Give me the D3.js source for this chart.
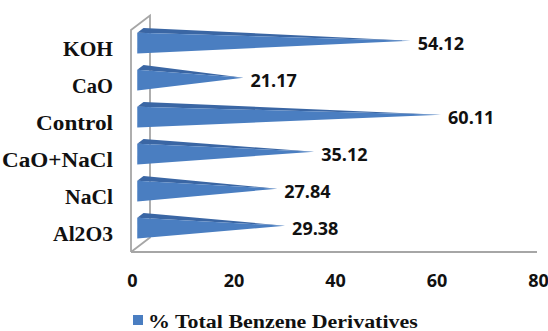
<!DOCTYPE html>
<html>
<head>
<meta charset="utf-8">
<script src="https://cdn.jsdelivr.net/npm/d3@7"></script>
</head>
<body style="margin:0">
<svg id="chart" width="548" height="331"></svg>
<script>
// ---- data ----
const categories = ["KOH", "CaO", "Control", "CaO+NaCl", "NaCl", "Al2O3"];
const values = [54.12, 21.17, 60.11, 35.12, 27.84, 29.38];
const tickValues = [0, 20, 40, 60, 80];
const seriesName = "% Total Benzene Derivatives";

// ---- layout ----
const W = 548, H = 331;
const frontLeft = 131, frontRight = 537;
const frontTop = 30, frontBottom = 252;
const depthDX = 19, depthDY = 14.5;   // oblique depth offset of the back wall
const d0 = 0.33, d1 = 0.66, dm = (d0 + d1) / 2;

const svg = d3.select("#chart");
svg.append("rect").attr("width", W).attr("height", H).attr("fill", "#fff");

const x = d3.scaleLinear().domain([0, 80]).range([frontLeft, frontRight]);
const y = d3.scaleBand().domain(categories).range([frontTop, frontBottom]);
const proj = (X, Y, d) => [X + depthDX * d, Y - depthDY * d];

// ---- walls ----
const walls = svg.append("g").attr("fill", "none").attr("stroke", "#a6a6a6").attr("stroke-width", 1.8);
walls.append("path").attr("d", d3.line()([
  [x(0), y.range()[1]], [x(0), y.range()[0]],
  proj(x(0), y.range()[0], 1), proj(x(0), y.range()[1], 1), [x(0), y.range()[1]]
]));
walls.append("path").attr("d", d3.line()([[x(0), y.range()[1]], [x(80), y.range()[1]]]));

// ---- pyramid bars ----
const halfH = 10.3;
const bars = svg.append("g");
const vlabels = svg.append("g");
categories.forEach((c, i) => {
  const yc = y(c) + y.bandwidth() / 2 - 0.6;
  const X0 = x(0);
  const ft = proj(X0, yc - halfH, d0);
  const fb = proj(X0, yc + halfH, d0);
  const bt = proj(X0, yc - halfH, d1);
  const ap = [x(values[i]) + 5, yc - depthDY * dm];
  bars.append("path").attr("d", d3.line()([ft, bt, ap])).attr("fill", "#3a66a4");
  bars.append("path").attr("d", d3.line()([ft, fb, ap])).attr("fill", "#4a7ec1");
  vlabels.append("text")
    .attr("x", ap[0] + 7)
    .attr("y", y(c) + y.bandwidth() / 2 - 5 + 6.4)
    .attr("font-size", 18).attr("font-weight", "bold")
    .style("font-family", "\"Open Sans\"")
    .attr("fill", "#111")
    .text(values[i].toFixed(2));
});

// ---- category labels (serif, stretched horizontally by a transform) ----
const catWidths = [50, 41, 77, 111, 48, 60];
const cat = svg.append("g").selectAll("text").data(categories).join("text")
  .attr("x", 0).attr("y", 0)
  .attr("text-anchor", "end")
  .attr("font-size", 20).attr("font-weight", "bold")
  .style("font-family", "\"Liberation Serif\"")
  .attr("fill", "#111")
  .text(d => d);
cat.each(function (d, i) {
  const w = this.getComputedTextLength() || catWidths[i];
  const s = Math.max(0.9, Math.min(1.3, catWidths[i] / w));
  d3.select(this).attr("transform",
    `translate(113, ${y(d) + y.bandwidth() / 2 + 1.2 + 6.6}) scale(${s}, 1)`);
});

// ---- x axis tick labels ----
const axis = d3.axisBottom(x).tickValues(tickValues).tickSize(0).tickPadding(0).tickFormat(d3.format("d"));
const gx = svg.append("g").attr("transform", `translate(1, ${286.5 - 14})`).call(axis);
gx.select(".domain").remove();
gx.attr("font-family", null).attr("font-size", null);
gx.selectAll("text")
  .attr("dy", null).attr("y", 14)
  .attr("font-size", 18).attr("font-weight", "bold")
  .style("font-family", "\"Open Sans\"")
  .attr("fill", "#111");

// ---- legend ----
svg.append("rect").attr("x", 133).attr("y", 315).attr("width", 10).attr("height", 10).attr("fill", "#4a7ec1");
const leg = svg.append("text")
  .attr("x", 0).attr("y", 0)
  .attr("font-size", 18).attr("font-weight", "bold")
  .style("font-family", "\"Liberation Serif\"")
  .attr("fill", "#111")
  .text(seriesName);
{
  const w = leg.node().getComputedTextLength() || 270;
  const s = Math.max(0.9, Math.min(1.3, 270 / w));
  leg.attr("transform", `translate(148, 327.5) scale(${s}, 1)`);
}
</script>
</body>
</html>
